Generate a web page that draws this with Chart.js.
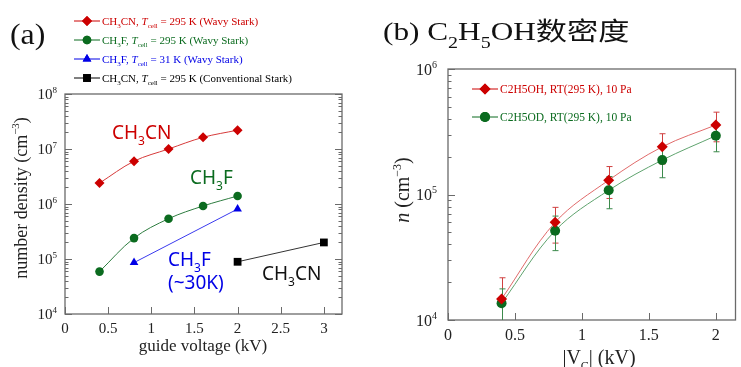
<!DOCTYPE html>
<html>
<head>
<meta charset="utf-8">
<script src="https://cdn.jsdelivr.net/npm/chart.js@4.4.1/dist/chart.umd.min.js"></script>
<style>
  html, body { margin: 0; padding: 0; background: #fff; overflow: hidden; width: 741px; height: 367px; }
  #wrapA { position: absolute; left: 0; top: 0; width: 370px; height: 367px; }
  #wrapB { position: absolute; left: 370px; top: 0; width: 371px; height: 367px; }
</style>
</head>
<body>
<div id="wrapA"><canvas id="chartA" width="370" height="367"></canvas></div>
<div id="wrapB"><canvas id="chartB" width="371" height="367"></canvas></div>
<script>
// Panel (a): number density vs guide voltage
const voltA = [0.4, 0.8, 1.2, 1.6, 2.0];
const ch3cnWavy = [2.4e6, 6.0e6, 1.0e7, 1.63e7, 2.2e7];
const ch3fWavy = [5.9e4, 2.4e5, 5.4e5, 9.2e5, 1.4e6];
const voltCold = [0.8, 2.0];
const ch3fCold = [8.6e4, 8.1e5];
const voltConv = [2.0, 3.0];
const ch3cnConv = [8.9e4, 2.0e5];
const xTicksA = [0, 0.5, 1, 1.5, 2, 2.5, 3];
const decadesA = [4, 5, 6, 7, 8];

// Panel (b): C2H5OH / C2H5OD density
const voltB = [0.4, 0.8, 1.2, 1.6, 2.0];
const c2h5oh = [1.47e4, 6.0e4, 1.3e5, 2.4e5, 3.58e5];
const c2h5ohErr = [0.7e4, 1.9e4, 0.37e5, 0.65e5, 0.95e5];
const c2h5od = [1.36e4, 5.15e4, 1.08e5, 1.88e5, 2.94e5];
const c2h5odErr = [0.41e4, 1.58e4, 0.31e5, 0.52e5, 0.75e5];
const xTicksB = [0, 0.5, 1, 1.5, 2];
const decadesB = [4, 5, 6];

const SERIF = '"Liberation Serif", "Times New Roman", serif';
const SANS = '"Noto Sans", "DejaVu Sans", sans-serif';
const RED = '#cc0000', GREEN = '#0b6b1f', BLUE = '#0000e6', BLACK = '#000';

// draw text with sub/superscripts; y is the baseline
function drawRich(ctx, parts, x, y, size, opts = {}) {
  const family = opts.family || SERIF;
  const segs = parts.map(p => typeof p === 'string' ? { t: p } : Object.assign({}, p));
  const fontFor = s => `${s.it ? 'italic ' : ''}${(s.sub || s.sup) ? Math.round(size * 0.62) : size}px ${s.family || family}`;
  let total = 0;
  segs.forEach(s => { ctx.font = fontFor(s); s.w = ctx.measureText(s.t).width; total += s.w; });
  let cx = opts.align === 'center' ? x - total / 2 : opts.align === 'right' ? x - total : x;
  ctx.textAlign = 'left';
  ctx.textBaseline = 'alphabetic';
  ctx.fillStyle = opts.color || '#222';
  segs.forEach(s => {
    ctx.font = fontFor(s);
    const dy = s.sub ? size * 0.3 : s.sup ? -size * 0.42 : 0;
    ctx.fillText(s.t, cx, y + dy);
    cx += s.w;
  });
  return total;
}

// frame, inward ticks and tick labels
function axesPlugin(cfg) {
  return {
    id: 'axes',
    beforeDatasetsDraw(chart) {
      const { ctx, chartArea: a, scales: { x, y } } = chart;
      ctx.save();
      ctx.strokeStyle = '#6a6a6a';
      ctx.lineWidth = 1.3;
      ctx.strokeRect(a.left, a.top, a.right - a.left, a.bottom - a.top);
      ctx.lineWidth = 1;
      ctx.beginPath();
      cfg.decades.forEach(e => {
        for (let m = 1; m <= 9; m++) {
          const v = m * Math.pow(10, e);
          if (v > y.max * 1.0001) break;
          const py = Math.round(y.getPixelForValue(v)) + 0.5;
          const len = m === 1 ? 7 : 3.5;
          ctx.moveTo(a.left, py); ctx.lineTo(a.left + len, py);
          if (cfg.rightTicks) { ctx.moveTo(a.right, py); ctx.lineTo(a.right - len, py); }
        }
      });
      cfg.xTicks.forEach(v => {
        const px = Math.round(x.getPixelForValue(v)) + 0.5;
        ctx.moveTo(px, a.bottom); ctx.lineTo(px, a.bottom - 7);
      });
      ctx.stroke();
      // tick labels
      cfg.decades.forEach(e => {
        const py = y.getPixelForValue(Math.pow(10, e));
        drawRich(ctx, ['10', { t: String(e), sup: true }], a.left - cfg.yLabelGap, py + cfg.tickSize * 0.35, cfg.tickSize, { align: 'right' });
      });
      cfg.xTicks.forEach(v => {
        drawRich(ctx, [String(v)], x.getPixelForValue(v), a.bottom + cfg.xLabelGap, cfg.tickSize, { align: 'center' });
      });
      ctx.restore();
    }
  };
}

function legendRow(ctx, style, x, y, parts, size) {
  ctx.save();
  ctx.strokeStyle = style.color;
  ctx.lineWidth = 1;
  ctx.beginPath();
  ctx.moveTo(x, y); ctx.lineTo(x + 26, y);
  ctx.stroke();
  ctx.fillStyle = style.color;
  Chart.helpers.drawPoint(ctx, { pointStyle: style.shape, radius: style.radius, borderWidth: 0 }, x + 13, y);
  ctx.fill();
  ctx.restore();
  drawRich(ctx, parts, x + 28, y + size * 0.35, size, { color: style.color });
}

function dataset(label, xs, ys, color, shape, radius, lineColor, smooth) {
  return {
    label,
    data: xs.map((v, i) => ({ x: v, y: ys[i] })),
    showLine: true,
    borderColor: lineColor || color,
    borderWidth: 1,
    backgroundColor: color,
    pointBackgroundColor: color,
    pointBorderColor: color,
    pointBorderWidth: 0,
    pointStyle: shape,
    pointRadius: radius,
    tension: smooth ? 0.35 : 0,
    clip: false
  };
}

const STYLE = {
  red: { color: RED, shape: 'rectRot', radius: 5 },
  green: { color: GREEN, shape: 'circle', radius: 4.3 },
  blue: { color: BLUE, shape: 'triangle', radius: 5 },
  black: { color: BLACK, shape: 'rect', radius: 5.5 }
};

// ---- Chart (a)
const annotateA = {
  id: 'annotateA',
  afterDraw(chart) {
    const ctx = chart.ctx;
    ctx.save();
    ctx.translate(10, 44);
    ctx.scale(1.1, 1);
    drawRich(ctx, ['(a)'], 0, 0, 29, { color: '#111' });
    ctx.restore();

    legendRow(ctx, STYLE.red, 74, 21, ['CH', { t: '3', sub: true }, 'CN, ', { t: 'T', it: true }, { t: 'cell', sub: true }, ' = 295 K (Wavy Stark)'], 11);
    legendRow(ctx, STYLE.green, 74, 40, ['CH', { t: '3', sub: true }, 'F, ', { t: 'T', it: true }, { t: 'cell', sub: true }, ' = 295 K (Wavy Stark)'], 11);
    legendRow(ctx, STYLE.blue, 74, 59, ['CH', { t: '3', sub: true }, 'F, ', { t: 'T', it: true }, { t: 'cell', sub: true }, ' = 31 K (Wavy Stark)'], 11);
    legendRow(ctx, STYLE.black, 74, 78, ['CH', { t: '3', sub: true }, 'CN, ', { t: 'T', it: true }, { t: 'cell', sub: true }, ' = 295 K (Conventional Stark)'], 11);

    drawRich(ctx, ['CH', { t: '3', sub: true }, 'CN'], 112, 139, 19, { family: SANS, color: RED });
    drawRich(ctx, ['CH', { t: '3', sub: true }, 'F'], 190, 184, 19, { family: SANS, color: GREEN });
    drawRich(ctx, ['CH', { t: '3', sub: true }, 'F'], 168, 266, 19, { family: SANS, color: BLUE });
    drawRich(ctx, ['(~30K)'], 168, 289, 19, { family: SANS, color: BLUE });
    drawRich(ctx, ['CH', { t: '3', sub: true }, 'CN'], 262, 280, 19, { family: SANS, color: '#111' });

    // axis titles
    drawRich(ctx, ['guide voltage (kV)'], 203, 351, 17, { align: 'center', color: '#222' });
    ctx.save();
    ctx.translate(27, 198);
    ctx.rotate(-Math.PI / 2);
    drawRich(ctx, ['number density (cm', { t: '\u22123', sup: true }, ')'], 0, 0, 18, { align: 'center', color: '#222' });
    ctx.restore();
  }
};

new Chart(document.getElementById('chartA'), {
  type: 'scatter',
  data: {
    datasets: [
      dataset('CH3CN wavy', voltA, ch3cnWavy, RED, 'rectRot', 5, '#d63a3a', true),
      dataset('CH3F wavy', voltA, ch3fWavy, GREEN, 'circle', 4.3, '#2e7d40', true),
      dataset('CH3F 31K', voltCold, ch3fCold, BLUE, 'triangle', 5, '#3a3aee', false),
      dataset('CH3CN conventional', voltConv, ch3cnConv, BLACK, 'rect', 5.5, '#333', false)
    ]
  },
  options: {
    responsive: false,
    animation: false,
    layout: { padding: { left: 65, top: 94, right: 28, bottom: 53 } },
    plugins: { legend: { display: false }, tooltip: { enabled: false } },
    scales: {
      x: { type: 'linear', min: 0, max: 3.21, display: false },
      y: { type: 'logarithmic', min: 1e4, max: 1e8, display: false }
    }
  },
  plugins: [axesPlugin({ xTicks: xTicksA, decades: decadesA, tickSize: 15, yLabelGap: 8, xLabelGap: 19, rightTicks: true }), annotateA]
});

// ---- Chart (b)
const errorBars = {
  id: 'errorBars',
  beforeDatasetsDraw(chart) {
    const { ctx, chartArea: a, scales: { x, y } } = chart;
    ctx.save();
    ctx.beginPath();
    ctx.rect(a.left, a.top, a.right - a.left, a.bottom - a.top);
    ctx.clip();
    [[c2h5oh, c2h5ohErr, '#d04040'], [c2h5od, c2h5odErr, '#3c8a4c']].forEach(([vals, errs, col]) => {
      ctx.strokeStyle = col;
      ctx.lineWidth = 1;
      ctx.beginPath();
      vals.forEach((v, i) => {
        const px = Math.round(x.getPixelForValue(voltB[i])) + 0.5;
        const top = y.getPixelForValue(v + errs[i]);
        const bot = y.getPixelForValue(Math.max(v - errs[i], 1));
        ctx.moveTo(px, top); ctx.lineTo(px, bot);
        ctx.moveTo(px - 3, top); ctx.lineTo(px + 3, top);
        ctx.moveTo(px - 3, bot); ctx.lineTo(px + 3, bot);
      });
      ctx.stroke();
    });
    ctx.restore();
  }
};

const annotateB = {
  id: 'annotateB',
  afterDraw(chart) {
    const ctx = chart.ctx;
    ctx.save();
    ctx.translate(13, 40);
    ctx.scale(1.25, 1);
    let w = drawRich(ctx, ['(b) C', { t: '2', sub: true }, 'H', { t: '5', sub: true }, 'OH'], 0, 0, 25, { color: '#111' });
    ctx.font = '25px "Noto Sans CJK SC"';
    ctx.fillStyle = '#111';
    ctx.fillText('数密度', w, 0);
    ctx.restore();

    const sB = { red: { color: RED, shape: 'rectRot', radius: 5.5 }, green: { color: GREEN, shape: 'circle', radius: 5 } };
    legendRow(ctx, sB.red, 102, 89, ['C2H5OH, RT(295 K), 10 Pa'], 11.5);
    legendRow(ctx, sB.green, 102, 117, ['C2H5OD, RT(295 K), 10 Pa'], 11.5);

    drawRich(ctx, ['|V', { t: 'C', sub: true }, '| (kV)'], 229, 364, 20, { align: 'center', color: '#222' });
    ctx.save();
    ctx.translate(39, 190);
    ctx.rotate(-Math.PI / 2);
    drawRich(ctx, [{ t: 'n', it: true }, ' (cm', { t: '\u22123', sup: true }, ')'], 0, 0, 20, { align: 'center', color: '#222' });
    ctx.restore();
  }
};

new Chart(document.getElementById('chartB'), {
  type: 'scatter',
  data: {
    datasets: [
      dataset('C2H5OH', voltB, c2h5oh, RED, 'rectRot', 5.5, '#e06a6a', true),
      dataset('C2H5OD', voltB, c2h5od, GREEN, 'circle', 5, '#5fa36e', true)
    ]
  },
  options: {
    responsive: false,
    animation: false,
    layout: { padding: { left: 78, top: 69, right: 1, bottom: 47 } },
    plugins: { legend: { display: false }, tooltip: { enabled: false } },
    scales: {
      x: { type: 'linear', min: 0, max: 2.147, display: false },
      y: { type: 'logarithmic', min: 1e4, max: 1e6, display: false }
    }
  },
  plugins: [axesPlugin({ xTicks: xTicksB, decades: decadesB, tickSize: 16, yLabelGap: 11, xLabelGap: 20, rightTicks: false }), errorBars, annotateB]
});
</script>
</body>
</html>
